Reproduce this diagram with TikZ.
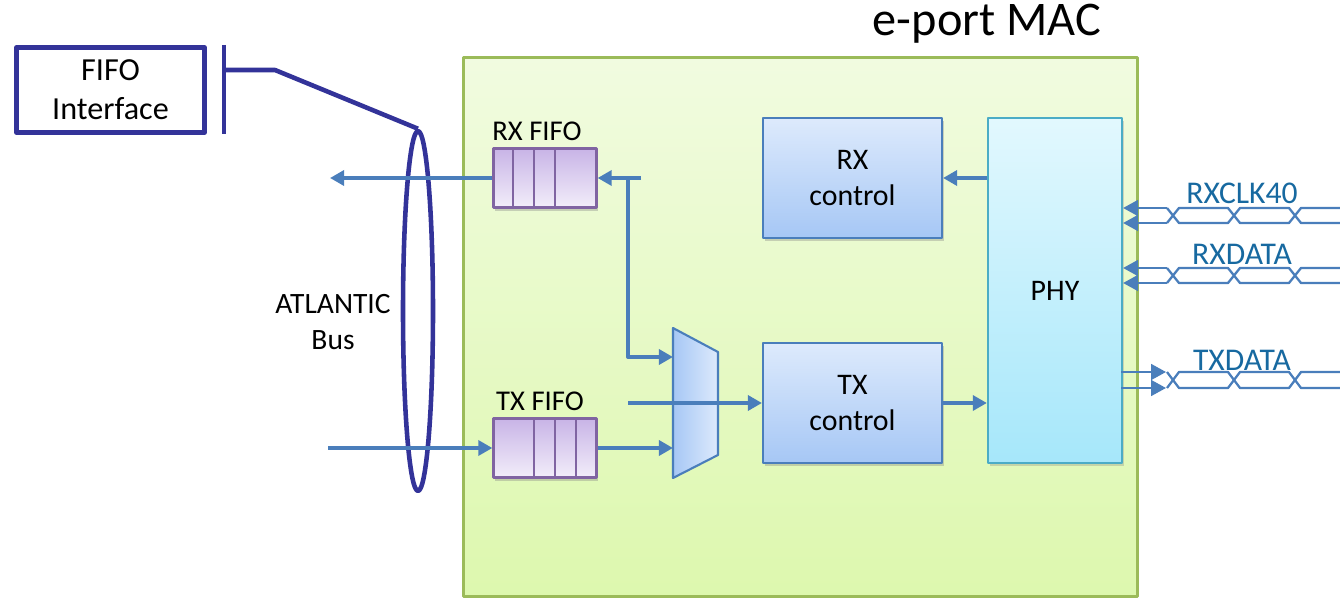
\documentclass[tikz,border=0pt]{standalone}
\usepackage{fontspec}
\setmainfont{Carlito}
\usetikzlibrary{arrows.meta,calc,positioning,shapes.geometric,shadows}
\definecolor{ifblue}{RGB}{51,51,153}
\definecolor{flowblue}{RGB}{74,126,187}
\definecolor{macgreen}{RGB}{155,187,89}
\definecolor{macgreentop}{RGB}{241,251,224}
\definecolor{macgreenbot}{RGB}{221,248,174}
\definecolor{ctrltop}{RGB}{221,234,252}
\definecolor{ctrlbot}{RGB}{166,199,245}
\definecolor{phyedge}{RGB}{75,172,198}
\definecolor{phytop}{RGB}{226,248,254}
\definecolor{phybot}{RGB}{166,231,250}
\definecolor{fifoedge}{RGB}{128,100,162}
\definecolor{fifotop}{RGB}{200,180,230}
\definecolor{fifobot}{RGB}{242,237,250}
\definecolor{sigtext}{RGB}{23,105,160}

\begin{document}
\begin{tikzpicture}[x=0.02cm,y=-0.02cm,line join=round,
 >={Triangle[length=8pt,width=8.5pt]},
 flow/.style={draw=flowblue,line width=2.2pt},
 sig/.style={draw=flowblue,line width=1.3pt},
 ifline/.style={draw=ifblue,line width=2.6pt},
 ctrlbox/.style={draw=flowblue,line width=1.2pt,top color=ctrltop,bottom color=ctrlbot,
  align=center,font=\fontsize{17}{21}\selectfont,drop shadow={shadow xshift=1pt,shadow yshift=-1.5pt,opacity=.35}},
 fifobox/.style={draw=fifoedge,line width=1.3pt,top color=fifotop,bottom color=fifobot,
  minimum width=2.06cm,minimum height=1.18cm,drop shadow={shadow xshift=1pt,shadow yshift=-2pt,opacity=.35}},
 lbl/.style={font=\fontsize{16.3}{19}\selectfont}]
 \useasboundingbox (0,0) rectangle (1340,598);

 % MAC frame
 \node[draw=macgreen,line width=1.3pt,top color=macgreentop,bottom color=macgreenbot,
  minimum width=13.48cm,minimum height=10.78cm] (mac) at (800.5,327) {};
 \node[font=\fontsize{27.5}{32}\selectfont] (title) at (987,24) {e-port MAC};

 % FIFO interface and bus
 \node[draw=ifblue,line width=2.6pt,minimum width=3.76cm,minimum height=1.7cm,
  align=center,font=\fontsize{18.3}{22}\selectfont] (fifoif) at (110.5,90) {FIFO\\Interface};
 \coordinate (bartop) at (224,45);
 \coordinate (barbot) at (224,134);
 \coordinate (barmid) at (224,70);
 \node[ellipse,draw=ifblue,line width=2.6pt,minimum width=0.6cm,minimum height=7.2cm] (bus) at (418,311) {};
 \draw[ifline] (bartop) -- (barbot);
 \draw[ifline] (barmid) -- (275,70) -- (bus.north);
 \node[align=center,font=\fontsize{16.8}{20}\selectfont] (buslbl) at (333,322) {ATLANTIC\\Bus};

 % blocks
 \node[ctrlbox,minimum width=3.58cm,minimum height=2.4cm] (rxc) at (852.5,178) {RX\\control};
 \node[ctrlbox,minimum width=3.58cm,minimum height=2.4cm] (txc) at (852.5,403) {TX\\control};
 \node[draw=phyedge,line width=1.3pt,top color=phytop,bottom color=phybot,
  minimum width=2.68cm,minimum height=6.9cm,font=\fontsize{17}{21}\selectfont,
  drop shadow={shadow xshift=1pt,shadow yshift=-1.5pt,opacity=.3}] (phy) at (1055,290.5) {PHY};

 % fifos
 \node[fifobox] (rxf) at (545,178) {};
 \node[fifobox] (txf) at (545,448) {};
 \foreach \dx in {21,42,63}
  \draw[fifoedge,line width=1.2pt] ($(rxf.north west)+(\dx,0)$) -- ($(rxf.south west)+(\dx,0)$);
 \foreach \dx in {42,63,84}
  \draw[fifoedge,line width=1.2pt] ($(txf.north west)+(\dx,0)$) -- ($(txf.south west)+(\dx,0)$);
 \node[lbl] (rxflbl) at (537,131) {RX FIFO};
 \node[lbl] (txflbl) at (540,401) {TX FIFO};

 % mux
 \coordinate (muxa) at (673,328);
 \coordinate (muxb) at (718,352);
 \coordinate (muxc) at (718,455);
 \coordinate (muxd) at (673,478);
 \shade[left color=ctrlbot,right color=ctrltop,draw=flowblue,line width=1.2pt]
  (muxa) -- (muxb) -- (muxc) -- (muxd) -- cycle;
 \coordinate (muxin1) at (673,357);
 \coordinate (muxin2) at (673,448);

 % data paths
 \coordinate (busout) at (330,178);
 \coordinate (busin) at (328,448);
 \coordinate (rxsrc) at (641,178);
 \coordinate (loopbk) at (628,178);
 \coordinate (txsrc) at (628,403);
 \draw[flow,->] (rxf.west) -- (busout);
 \draw[flow,->] (busin) -- (txf.west);
 \draw[flow,->] (rxsrc) -- (rxf.east);
 \draw[flow,->] (loopbk) |- (muxin1);
 \draw[flow,->] (txf.east) -- (muxin2);
 \draw[flow,->] (txsrc) -- (txc.west);
 \draw[flow,->] (phy.west |- rxc.east) -- (rxc.east);
 \draw[flow,->] (txc.east) -- (phy.west |- txc.east);

 % serial links
 \foreach \name/\ya/\yb/\ly in {RXCLK40/208/223/193,RXDATA/268/283/254,TXDATA/372/388/360}{
  \draw[sig] (1167,\ya) -- (1179,\yb) -- (1228,\yb) -- (1240,\ya) -- (1289,\ya) -- (1301,\yb) -- (1345,\yb);
  \draw[sig] (1167,\yb) -- (1179,\ya) -- (1228,\ya) -- (1240,\yb) -- (1289,\yb) -- (1301,\ya) -- (1345,\ya);
  \node[text=sigtext,font=\fontsize{18}{22}\selectfont] at (1242,\ly) {\name};
 }
 \foreach \y in {208,223,268,283}{
  \coordinate (rxend) at (1167,\y);
  \draw[sig,->,>={Triangle[length=8.5pt,width=9pt]}] (rxend) -- (phy.east |- rxend);
 }
 \foreach \y in {372,388}{
  \coordinate (txend) at (1166,\y);
  \draw[sig,->,>={Triangle[length=8.5pt,width=9pt]}] (phy.east |- txend) ++(-2,0) -- (txend);
 }
\end{tikzpicture}
\end{document}
